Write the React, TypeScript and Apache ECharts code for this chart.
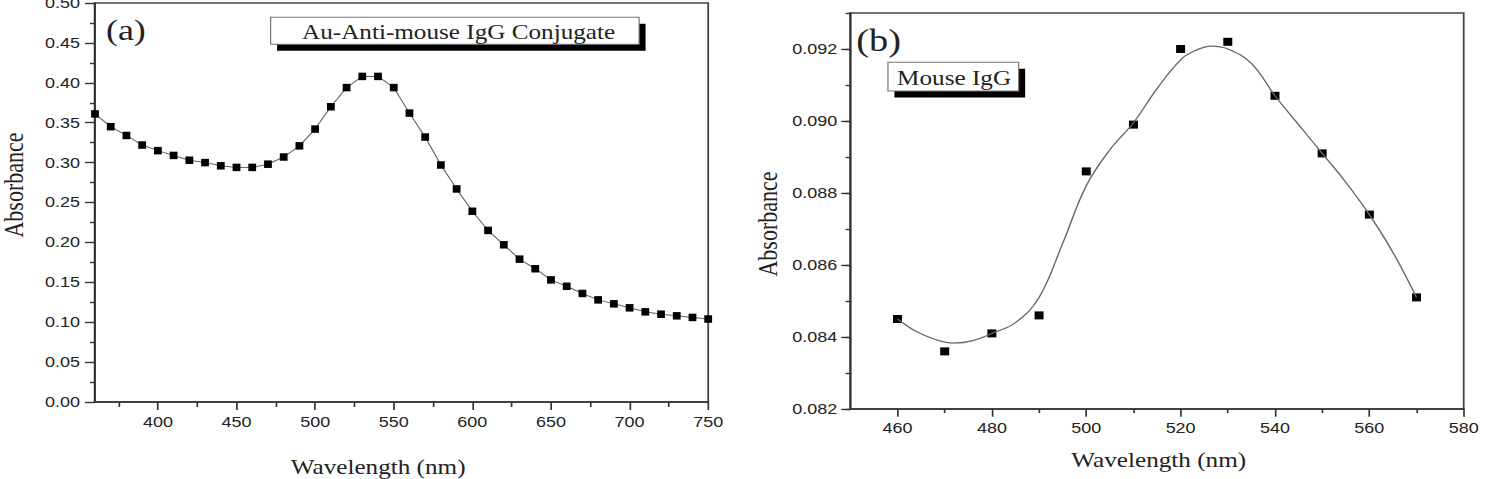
import React, { useEffect, useRef } from "react";
import * as echarts from "echarts";

// Panel (a): Au–anti-mouse IgG conjugate spectrum
const wavelengthA = [
  360, 370, 380, 390, 400, 410, 420, 430, 440, 450, 460, 470, 480, 490, 500, 510, 520, 530, 540, 550,
  560, 570, 580, 590, 600, 610, 620, 630, 640, 650, 660, 670, 680, 690, 700, 710, 720, 730, 740, 750,
];
const absorbanceA = [
  0.361, 0.345, 0.334, 0.322, 0.315, 0.309, 0.303, 0.3, 0.296, 0.294, 0.294, 0.298, 0.307, 0.321, 0.342,
  0.37, 0.394, 0.408, 0.408, 0.394, 0.362, 0.332, 0.297, 0.267, 0.239, 0.215, 0.197, 0.179, 0.167, 0.153,
  0.145, 0.136, 0.128, 0.123, 0.118, 0.113, 0.11, 0.108, 0.106, 0.104,
];

// Panel (b): mouse IgG measured points and fitted curve
const wavelengthB = [460, 470, 480, 490, 500, 510, 520, 530, 540, 550, 560, 570];
const absorbanceB = [0.0845, 0.0836, 0.0841, 0.0846, 0.0886, 0.0899, 0.092, 0.0922, 0.0907, 0.0891, 0.0874, 0.0851];
const fitWavelengthB = [
  460, 464, 468, 472, 476, 480, 485, 490, 495, 500, 505, 510, 515, 520, 523, 526.5, 530, 535, 540, 545, 550,
  555, 560, 565, 570,
];
const fitAbsorbanceB = [
  0.0845, 0.08415, 0.08393, 0.08383, 0.0839, 0.0841, 0.0844, 0.0851, 0.0866, 0.0882, 0.0892, 0.08995, 0.0909,
  0.0917, 0.09195, 0.09208, 0.092, 0.0916, 0.0907, 0.0899, 0.0891, 0.0883, 0.0874, 0.08635, 0.0851,
];

// Tick positions
const xMajorA = [400, 450, 500, 550, 600, 650, 700, 750];
const xMinorA = [375, 425, 475, 525, 575, 625, 675, 725];
const xMajorB = [460, 480, 500, 520, 540, 560, 580];
const xMinorB = [470, 490, 510, 530, 550, 570];

const H = 479;
const W = 1238;
const SX = 1485 / W;

const SANS = "'Liberation Sans', Arial, sans-serif";
const SERIF = "'Liberation Serif', 'Times New Roman', serif";
const AXIS_COLOR = "#333";
const TEXT_COLOR = "#222";

const zip = (xs: number[], ys: number[]) => xs.map((x, i) => [x, ys[i]]);

function labelBox(x: number, y: number, w: number, h: number, cx: number, cy: number, text: string) {
  return [
    { type: "rect", shape: { x: x + 5.4, y: y + 6.4, width: w, height: h }, style: { fill: "#000" } },
    { type: "rect", shape: { x, y, width: w, height: h }, style: { fill: "#fff", stroke: "#777", lineWidth: 1 } },
    {
      type: "text",
      x: cx,
      y: cy,
      style: { text, font: `21px ${SERIF}`, fill: TEXT_COLOR, align: "center", verticalAlign: "middle" },
    },
  ];
}

export default function App() {
  const ref = useRef<HTMLDivElement>(null);

  useEffect(() => {
    if (!ref.current) return;
    const chart = echarts.init(ref.current, null, { renderer: "svg" });

    const axisLine = { show: true, lineStyle: { color: AXIS_COLOR, width: 1.7 } };
    const tickLine = { color: AXIS_COLOR, width: 1.4 };
    const labelStyle = { fontSize: 15, color: TEXT_COLOR, fontFamily: SANS };

    const option: any = {
      animation: false,
      backgroundColor: "#fff",
      grid: [
        {
          left: 79.2, top: 3, width: 511.2, height: 399, show: true,
          borderColor: "#444", borderWidth: 1.5, backgroundColor: "transparent", outerBoundsMode: "none",
        },
        {
          left: 708.9, top: 13, width: 511.35, height: 396, show: true,
          borderColor: "#444", borderWidth: 1.5, backgroundColor: "transparent", outerBoundsMode: "none",
        },
      ],
      xAxis: [
        {
          gridIndex: 0, type: "value", position: "bottom", min: 360, max: 750,
          axisLine, splitLine: { show: false },
          axisTick: { length: 8, customValues: xMajorA, lineStyle: tickLine },
          axisLabel: { ...labelStyle, customValues: xMajorA, margin: 13 },
        },
        {
          gridIndex: 0, type: "value", position: "bottom", min: 360, max: 750,
          axisLine: { show: false }, splitLine: { show: false }, axisLabel: { show: false },
          axisTick: { length: 5, customValues: xMinorA, lineStyle: tickLine },
        },
        {
          gridIndex: 1, type: "value", position: "bottom", min: 450, max: 580,
          axisLine, splitLine: { show: false },
          axisTick: { length: 7.7, customValues: xMajorB, lineStyle: tickLine },
          axisLabel: { ...labelStyle, customValues: xMajorB, margin: 12 },
        },
        {
          gridIndex: 1, type: "value", position: "bottom", min: 450, max: 580,
          axisLine: { show: false }, splitLine: { show: false }, axisLabel: { show: false },
          axisTick: { length: 4, customValues: xMinorB, lineStyle: tickLine },
        },
      ],
      yAxis: [
        {
          gridIndex: 0, type: "value", position: "left", min: 0, max: 0.5, interval: 0.05,
          axisLine, splitLine: { show: false },
          axisTick: { length: 8.3, lineStyle: tickLine },
          minorTick: { show: true, splitNumber: 2, length: 4.2, lineStyle: tickLine },
          minorSplitLine: { show: false },
          axisLabel: { ...labelStyle, margin: 12.5, formatter: (v: number) => v.toFixed(2) },
        },
        {
          gridIndex: 1, type: "value", position: "left", min: 0.082, max: 0.093, interval: 0.002,
          axisLine, splitLine: { show: false },
          axisTick: { length: 7.5, lineStyle: tickLine },
          axisLabel: { ...labelStyle, margin: 11, showMaxLabel: false, formatter: (v: number) => v.toFixed(3) },
        },
        {
          gridIndex: 1, type: "value", position: "left", min: 0.082, max: 0.093, interval: 0.001,
          axisLine: { show: false }, splitLine: { show: false }, axisLabel: { show: false },
          axisTick: { length: 4, lineStyle: tickLine },
        },
      ],
      series: [
        {
          type: "line", xAxisIndex: 0, yAxisIndex: 0,
          data: zip(wavelengthA, absorbanceA),
          symbol: "rect", symbolSize: [6.5, 7.5], showSymbol: true,
          itemStyle: { color: "#000", opacity: 1 },
          lineStyle: { color: "#666", width: 1 },
        },
        {
          type: "line", xAxisIndex: 2, yAxisIndex: 1,
          data: zip(fitWavelengthB, fitAbsorbanceB),
          smooth: 0.4, showSymbol: false,
          lineStyle: { color: "#666", width: 1.2 },
        },
        {
          type: "scatter", xAxisIndex: 2, yAxisIndex: 1,
          data: zip(wavelengthB, absorbanceB),
          symbol: "rect", symbolSize: [7.5, 8],
          itemStyle: { color: "#000", opacity: 1 },
        },
      ],
      graphic: [
        ...labelBox(225.6, 17.3, 307.2, 27, 382.3, 32, "Au-Anti-mouse IgG Conjugate"),
        ...labelBox(740.25, 62.3, 109, 28.7, 795.4, 78, "Mouse IgG"),
        {
          type: "text", x: 88.3, y: 30,
          style: { text: "(a)", font: `30px ${SERIF}`, fill: TEXT_COLOR, align: "left", verticalAlign: "middle" },
        },
        {
          type: "text", x: 713.9, y: 40.3,
          style: { text: "(b)", font: `32px ${SERIF}`, fill: TEXT_COLOR, align: "left", verticalAlign: "middle" },
        },
        {
          type: "text", x: 315.25, y: 467,
          style: { text: "Wavelength (nm)", font: `21px ${SERIF}`, fill: TEXT_COLOR, align: "center", verticalAlign: "middle" },
        },
        {
          type: "text", x: 966, y: 459.6,
          style: { text: "Wavelength (nm)", font: `21px ${SERIF}`, fill: TEXT_COLOR, align: "center", verticalAlign: "middle" },
        },
        {
          type: "text", x: 11.5, y: 185, rotation: Math.PI / 2,
          style: { text: "Absorbance", font: `22px ${SERIF}`, fill: TEXT_COLOR, align: "center", verticalAlign: "middle" },
        },
        {
          type: "text", x: 639.8, y: 224, rotation: Math.PI / 2,
          style: { text: "Absorbance", font: `22px ${SERIF}`, fill: TEXT_COLOR, align: "center", verticalAlign: "middle" },
        },
      ],
    };

    chart.setOption(option);
    return () => chart.dispose();
  }, []);

  return (
    <div style={{ position: "fixed", left: 0, top: 0, width: 1485, height: H, overflow: "hidden", background: "#fff" }}>
      <div
        ref={ref}
        style={{ width: W, height: H, transform: `scaleX(${SX})`, transformOrigin: "0 0" }}
      />
    </div>
  );
}
